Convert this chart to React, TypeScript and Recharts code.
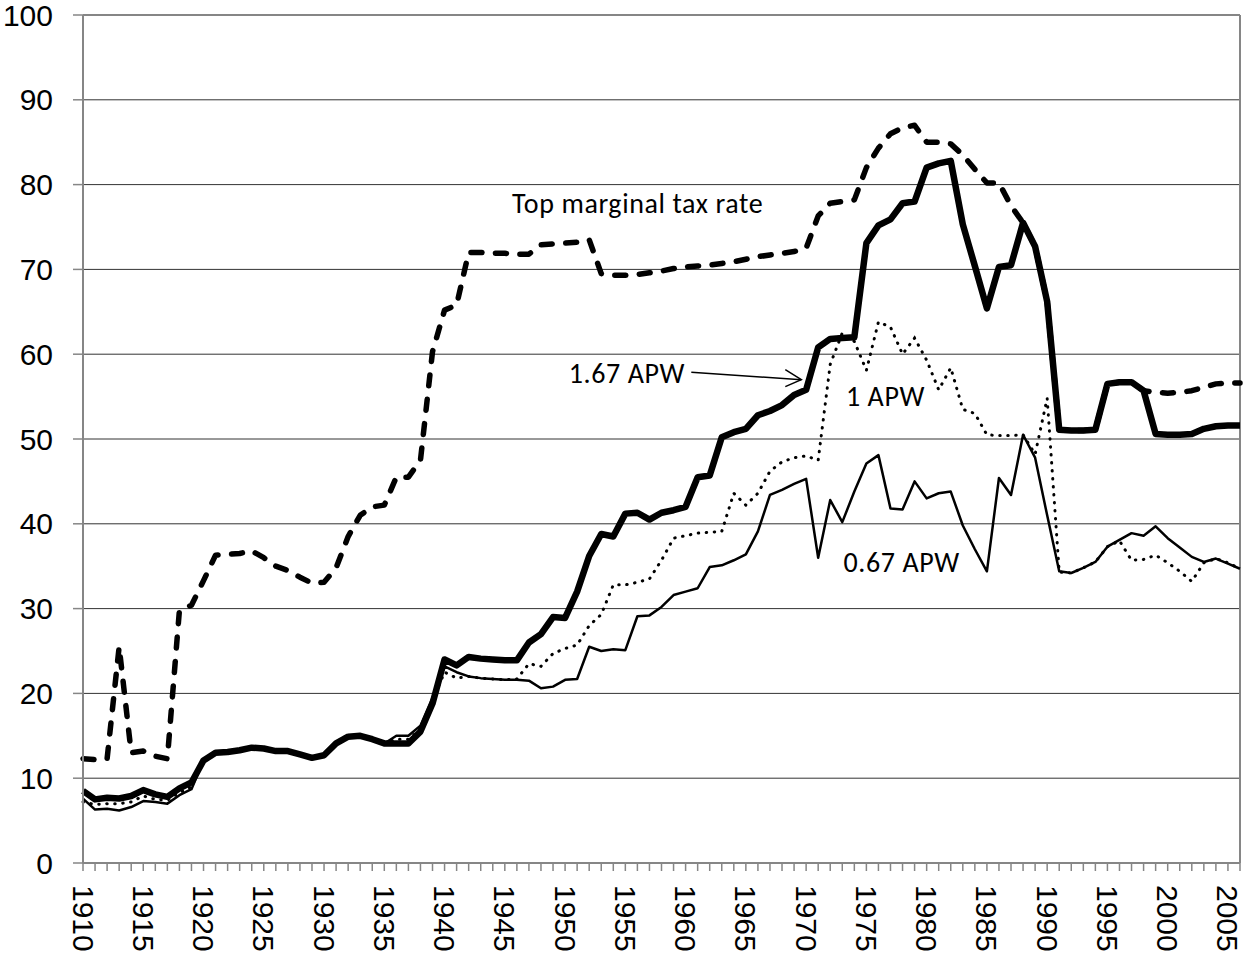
import React from "react";
import { LineChart, Line, XAxis, YAxis, CartesianGrid, ReferenceLine, ReferenceDot } from "recharts";

// years on the category axis, 1910..2006
const years = Array.from({ length: 97 }, (_, i) => 1910 + i);

const yTicks = [0, 10, 20, 30, 40, 50, 60, 70, 80, 90, 100];

// top marginal tax rate (dashed)
const topRate = [
  12.3, 12.2, 12.3, 25.5, 13.0, 13.2, 12.6, 12.3, 29.8, 30.4,
  33.3, 36.3, 36.4, 36.5, 36.8, 36.0, 35.0, 34.5, 33.7, 33.0,
  33.1, 34.8, 38.5, 41.0, 42.0, 42.2, 45.5, 45.5, 47.5, 60.3,
  65.2, 65.8, 72.0, 72.0, 71.9, 71.9, 71.8, 71.8, 72.9, 73.0,
  73.1, 73.2, 73.5, 69.5, 69.3, 69.3, 69.4, 69.6, 69.8, 70.1,
  70.3, 70.4, 70.5, 70.7, 70.9, 71.2, 71.5, 71.7, 71.9, 72.1,
  72.5, 76.3, 77.8, 78.0, 78.2, 82.0, 84.3, 86.0, 86.7, 87.0,
  85.0, 85.0, 84.8, 83.5, 81.8, 80.2, 80.2, 77.5, 75.5, 72.7,
  66.2, 51.1, 51.0, 51.0, 51.1, 56.5, 56.7, 56.7, 55.7, 55.5,
  55.4, 55.5, 55.7, 56.1, 56.5, 56.6, 56.6,
];

// 1.67 APW (thick solid)
const apw167 = [
  8.5, 7.5, 7.7, 7.6, 7.9, 8.6, 8.1, 7.8, 8.8, 9.5,
  12.1, 13.0, 13.1, 13.3, 13.6, 13.5, 13.2, 13.2, 12.8, 12.4,
  12.7, 14.1, 14.9, 15.0, 14.6, 14.1, 14.1, 14.1, 15.5, 18.8,
  24.0, 23.3, 24.3, 24.1, 24.0, 23.9, 23.9, 26.0, 27.0, 29.0,
  28.9, 32.0, 36.2, 38.8, 38.5, 41.2, 41.3, 40.5, 41.3, 41.6,
  42.0, 45.5, 45.7, 50.2, 50.8, 51.2, 52.8, 53.3, 54.0, 55.2,
  55.8, 60.8, 61.8, 61.9, 62.0, 73.1, 75.2, 75.9, 77.8, 78.0,
  82.0, 82.5, 82.8, 75.3, 70.4, 65.4, 70.3, 70.5, 75.5, 72.7,
  66.2, 51.1, 51.0, 51.0, 51.1, 56.5, 56.7, 56.7, 55.7, 50.6,
  50.5, 50.5, 50.6, 51.2, 51.5, 51.6, 51.6,
];

// 1 APW (dotted)
const apw100 = [
  7.2, 6.9, 7.0, 7.0, 7.2, 7.9, 7.5, 7.4, 8.3, 9.0,
  12.1, 13.0, 13.1, 13.3, 13.6, 13.5, 13.2, 13.2, 12.8, 12.4,
  12.7, 14.1, 14.9, 15.0, 14.6, 14.1, 14.6, 14.6, 15.8, 19.2,
  22.5, 21.8, 22.0, 21.8, 21.7, 21.6, 21.7, 23.5, 23.2, 24.7,
  25.3, 25.7, 28.0, 29.3, 32.8, 32.8, 33.1, 33.5, 35.7, 38.3,
  38.6, 38.9, 39.0, 39.1, 43.6, 42.2, 43.6, 46.2, 47.3, 47.8,
  48.0, 47.5, 58.8, 62.5, 61.5, 58.1, 63.8, 63.2, 60.0, 61.9,
  59.3, 55.8, 58.4, 53.5, 53.0, 50.5, 50.4, 50.4, 50.5, 48.2,
  54.8, 34.3, 34.2, 34.8, 35.5, 37.3, 38.0, 35.7, 35.8, 36.3,
  35.4, 34.4, 33.2, 35.4, 35.9, 35.4, 34.7,
];

// 0.67 APW (thin solid)
const apw067 = [
  7.6, 6.3, 6.4, 6.2, 6.6, 7.3, 7.2, 7.0, 8.0, 8.7,
  12.1, 13.0, 13.1, 13.3, 13.6, 13.5, 13.2, 13.2, 12.8, 12.4,
  12.7, 14.1, 14.9, 15.0, 14.6, 14.1, 15.0, 15.0, 16.2, 19.5,
  23.2, 22.5, 22.0, 21.8, 21.7, 21.6, 21.6, 21.5, 20.6, 20.8,
  21.6, 21.7, 25.5, 25.0, 25.2, 25.1, 29.1, 29.2, 30.2, 31.6,
  32.0, 32.4, 34.9, 35.1, 35.7, 36.4, 39.1, 43.4, 44.0, 44.7,
  45.3, 36.0, 42.8, 40.2, 43.8, 47.1, 48.1, 41.8, 41.7, 45.0,
  43.0, 43.6, 43.8, 39.8, 37.0, 34.4, 45.4, 43.4, 50.5, 47.8,
  41.0, 34.4, 34.2, 34.8, 35.5, 37.3, 38.1, 38.9, 38.6, 39.7,
  38.3, 37.2, 36.1, 35.5, 35.9, 35.3, 34.7,
];

const data = years.map((year, i) => ({
  year,
  topRate: topRate[i],
  apw167: apw167[i],
  apw100: apw100[i],
  apw067: apw067[i],
}));

const axisGray = "#868686";
const noteFont = "Carlito, Lato, sans-serif";

const YearTick = (props: any) => {
  const { x, y, payload } = props;
  if (payload.value % 5 !== 0) return <g />;
  return (
    <text
      x={x}
      y={y}
      dy="0.35em"
      transform={`rotate(90, ${x}, ${y})`}
      textAnchor="start"
      fontSize={30}
      fill="#000"
    >
      {payload.value}
    </text>
  );
};

const note = (label: string) => (p: any) => (
  <text x={p.cx} y={p.cy} fontSize={28} letterSpacing={0.6} fontFamily={noteFont} fill="#000">
    {label}
  </text>
);

const arrow = (p: any) => {
  const { cx, cy } = p;
  return (
    <g stroke="#000" strokeWidth={1.5} fill="none">
      <line x1={cx - 110} y1={cy - 7.3} x2={cx} y2={cy} />
      <polyline points={`${cx - 16},${cy - 10} ${cx},${cy} ${cx - 16},${cy + 7}`} />
    </g>
  );
};

export default function App() {
  return (
    <div style={{ position: "absolute", left: 0, top: 0 }}>
      <LineChart
        width={1244}
        height={958}
        data={data}
        margin={{ top: 15, right: 4, bottom: 0, left: 0 }}
        style={{ fontFamily: "'Liberation Sans', Arial, sans-serif" }}
      >
        <CartesianGrid vertical={false} stroke="#333" strokeWidth={1} />
        <XAxis
          dataKey="year"
          type="number"
          domain={[1910, 2006]}
          ticks={years}
          interval={0}
          height={95}
          tick={<YearTick />}
          tickSize={8}
          tickMargin={14}
          axisLine={{ stroke: axisGray, strokeWidth: 2 }}
          tickLine={{ stroke: axisGray, strokeWidth: 1.5 }}
        />
        <YAxis
          domain={[0, 100]}
          ticks={yTicks}
          width={83}
          interval={0}
          tick={{ fontSize: 30, fill: "#000" }}
          tickSize={10}
          tickMargin={20}
          axisLine={{ stroke: axisGray, strokeWidth: 2 }}
          tickLine={{ stroke: axisGray, strokeWidth: 1.5 }}
        />
        <ReferenceLine y={100} stroke={axisGray} strokeWidth={2} />
        <ReferenceLine x={2006} stroke={axisGray} strokeWidth={2} />

        <Line
          type="linear"
          dataKey="topRate"
          stroke="#000"
          strokeWidth={5.5}
          strokeDasharray="11 13.5"
          strokeLinecap="round"
          strokeLinejoin="round"
          dot={false}
          activeDot={false}
          isAnimationActive={false}
        />
        <Line
          type="linear"
          dataKey="apw067"
          stroke="#000"
          strokeWidth={2.5}
          strokeLinejoin="round"
          dot={false}
          activeDot={false}
          isAnimationActive={false}
        />
        <Line
          type="linear"
          dataKey="apw100"
          stroke="#000"
          strokeWidth={3}
          strokeDasharray="0.5 7.5"
          strokeLinecap="round"
          dot={false}
          activeDot={false}
          isAnimationActive={false}
        />
        <Line
          type="linear"
          dataKey="apw167"
          stroke="#000"
          strokeWidth={6.5}
          strokeLinejoin="round"
          dot={false}
          activeDot={false}
          isAnimationActive={false}
        />

        <ReferenceDot x={1945.6} y={76.6} r={0} shape={note("Top marginal tax rate")} />
        <ReferenceDot x={1950.3} y={56.6} r={0} shape={note("1.67 APW")} />
        <ReferenceDot x={1969.6} y={57.0} r={0} shape={arrow} />
        <ReferenceDot x={1973.3} y={53.9} r={0} shape={note("1 APW")} />
        <ReferenceDot x={1973.1} y={34.3} r={0} shape={note("0.67 APW")} />
      </LineChart>
    </div>
  );
}
